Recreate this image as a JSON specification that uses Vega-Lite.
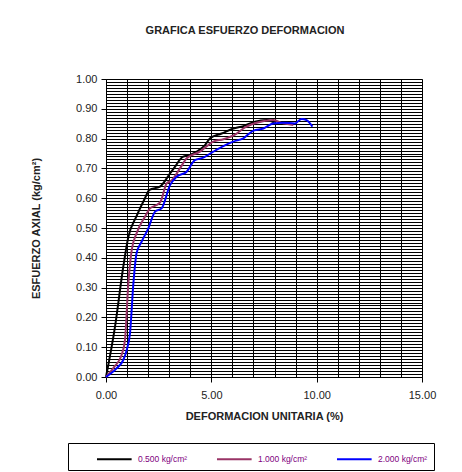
{
  "$schema": "https://vega.github.io/schema/vega-lite/v6.json",
  "width": 316,
  "height": 298,
  "autosize": "none",
  "padding": {"left": 106, "top": 79, "right": 40, "bottom": 95},
  "background": "white",
  "title": {"text": "GRAFICA ESFUERZO DEFORMACION", "font": "Liberation Sans", "fontSize": 11, "fontWeight": "bold", "color": "#222", "offset": 37, "dx": -19},
  "config": {
    "view": {"stroke": "#888", "strokeWidth": 1},
    "axis": {"labelFont": "Liberation Sans", "labelFontSize": 11, "labelColor": "#222", "titleFont": "Liberation Sans", "titleFontSize": 11, "titleFontWeight": "bold", "titleColor": "#222", "labelOverlap": false, "labelBound": false, "labelFlush": false, "domainColor": "#000", "tickColor": "#000", "gridColor": "#000", "gridWidth": 1}
  },
  "data": {"values": [
    {"s": "0.500 kg/cm²", "x": 0, "y": 0},
    {"s": "0.500 kg/cm²", "x": 0.43, "y": 0.17},
    {"s": "0.500 kg/cm²", "x": 0.82, "y": 0.37},
    {"s": "0.500 kg/cm²", "x": 1.06, "y": 0.47},
    {"s": "0.500 kg/cm²", "x": 1.45, "y": 0.54},
    {"s": "0.500 kg/cm²", "x": 1.85, "y": 0.6},
    {"s": "0.500 kg/cm²", "x": 2.06, "y": 0.628},
    {"s": "0.500 kg/cm²", "x": 2.56, "y": 0.639},
    {"s": "0.500 kg/cm²", "x": 3.04, "y": 0.683},
    {"s": "0.500 kg/cm²", "x": 3.28, "y": 0.706},
    {"s": "0.500 kg/cm²", "x": 3.64, "y": 0.739},
    {"s": "0.500 kg/cm²", "x": 3.99, "y": 0.745},
    {"s": "0.500 kg/cm²", "x": 4.3, "y": 0.756},
    {"s": "0.500 kg/cm²", "x": 4.7, "y": 0.778},
    {"s": "0.500 kg/cm²", "x": 4.94, "y": 0.801},
    {"s": "0.500 kg/cm²", "x": 5.49, "y": 0.817},
    {"s": "0.500 kg/cm²", "x": 6.04, "y": 0.834},
    {"s": "0.500 kg/cm²", "x": 6.52, "y": 0.842},
    {"s": "0.500 kg/cm²", "x": 7.07, "y": 0.857},
    {"s": "0.500 kg/cm²", "x": 7.63, "y": 0.862},
    {"s": "0.500 kg/cm²", "x": 8.0, "y": 0.853},
    {"s": "1.000 kg/cm²", "x": 0, "y": 0},
    {"s": "1.000 kg/cm²", "x": 0.4, "y": 0.035},
    {"s": "1.000 kg/cm²", "x": 0.74, "y": 0.074},
    {"s": "1.000 kg/cm²", "x": 0.9, "y": 0.124},
    {"s": "1.000 kg/cm²", "x": 1.06, "y": 0.314},
    {"s": "1.000 kg/cm²", "x": 1.22, "y": 0.426},
    {"s": "1.000 kg/cm²", "x": 1.45, "y": 0.482},
    {"s": "1.000 kg/cm²", "x": 1.85, "y": 0.538},
    {"s": "1.000 kg/cm²", "x": 2.09, "y": 0.566},
    {"s": "1.000 kg/cm²", "x": 2.4, "y": 0.577},
    {"s": "1.000 kg/cm²", "x": 2.6, "y": 0.59},
    {"s": "1.000 kg/cm²", "x": 2.88, "y": 0.65},
    {"s": "1.000 kg/cm²", "x": 3.11, "y": 0.659},
    {"s": "1.000 kg/cm²", "x": 3.51, "y": 0.7},
    {"s": "1.000 kg/cm²", "x": 3.83, "y": 0.734},
    {"s": "1.000 kg/cm²", "x": 4.46, "y": 0.756},
    {"s": "1.000 kg/cm²", "x": 5.09, "y": 0.79},
    {"s": "1.000 kg/cm²", "x": 5.57, "y": 0.798},
    {"s": "1.000 kg/cm²", "x": 6.2, "y": 0.817},
    {"s": "1.000 kg/cm²", "x": 6.52, "y": 0.834},
    {"s": "1.000 kg/cm²", "x": 7.15, "y": 0.853},
    {"s": "1.000 kg/cm²", "x": 7.94, "y": 0.862},
    {"s": "1.000 kg/cm²", "x": 8.41, "y": 0.851},
    {"s": "1.000 kg/cm²", "x": 8.89, "y": 0.846},
    {"s": "2.000 kg/cm²", "x": 0, "y": 0},
    {"s": "2.000 kg/cm²", "x": 0.5, "y": 0.029},
    {"s": "2.000 kg/cm²", "x": 0.82, "y": 0.057},
    {"s": "2.000 kg/cm²", "x": 0.98, "y": 0.09},
    {"s": "2.000 kg/cm²", "x": 1.14, "y": 0.147},
    {"s": "2.000 kg/cm²", "x": 1.3, "y": 0.314},
    {"s": "2.000 kg/cm²", "x": 1.45, "y": 0.415},
    {"s": "2.000 kg/cm²", "x": 1.69, "y": 0.454},
    {"s": "2.000 kg/cm²", "x": 2.01, "y": 0.499},
    {"s": "2.000 kg/cm²", "x": 2.33, "y": 0.555},
    {"s": "2.000 kg/cm²", "x": 2.64, "y": 0.566},
    {"s": "2.000 kg/cm²", "x": 3.04, "y": 0.644},
    {"s": "2.000 kg/cm²", "x": 3.35, "y": 0.672},
    {"s": "2.000 kg/cm²", "x": 3.83, "y": 0.689},
    {"s": "2.000 kg/cm²", "x": 4.22, "y": 0.728},
    {"s": "2.000 kg/cm²", "x": 4.62, "y": 0.736},
    {"s": "2.000 kg/cm²", "x": 5.09, "y": 0.756},
    {"s": "2.000 kg/cm²", "x": 5.57, "y": 0.775},
    {"s": "2.000 kg/cm²", "x": 6.04, "y": 0.79},
    {"s": "2.000 kg/cm²", "x": 6.52, "y": 0.801},
    {"s": "2.000 kg/cm²", "x": 7.0, "y": 0.827},
    {"s": "2.000 kg/cm²", "x": 7.47, "y": 0.834},
    {"s": "2.000 kg/cm²", "x": 7.94, "y": 0.851},
    {"s": "2.000 kg/cm²", "x": 8.41, "y": 0.853},
    {"s": "2.000 kg/cm²", "x": 8.97, "y": 0.851},
    {"s": "2.000 kg/cm²", "x": 9.28, "y": 0.866},
    {"s": "2.000 kg/cm²", "x": 9.52, "y": 0.862},
    {"s": "2.000 kg/cm²", "x": 9.8, "y": 0.84}
  ]},
  "mark": {"type": "line", "strokeWidth": 2, "interpolate": "monotone"},
  "encoding": {
    "x": {"field": "x", "type": "quantitative", "scale": {"domain": [0, 15], "nice": false},
      "axis": {"title": "DEFORMACION UNITARIA (%)", "values": [0,1,2,3,4,5,6,7,8,9,10,11,12,13,14,15],
        "labelExpr": "datum.value % 5 === 0 ? format(datum.value, '.2f') : ''",
        "tickOpacity": {"condition": {"test": "datum.value % 5 === 0", "value": 1}, "value": 0},
        "tickSize": 5, "labelPadding": 7, "titlePadding": 10}},
    "y": {"field": "y", "type": "quantitative", "scale": {"domain": [0, 1], "nice": false},
      "axis": {"title": "ESFUERZO AXIAL (kg/cm²)",
        "values": [0,0.01,0.02,0.03,0.04,0.05,0.06,0.07,0.08,0.09,0.1,0.11,0.12,0.13,0.14,0.15,0.16,0.17,0.18,0.19,0.2,0.21,0.22,0.23,0.24,0.25,0.26,0.27,0.28,0.29,0.3,0.31,0.32,0.33,0.34,0.35,0.36,0.37,0.38,0.39,0.4,0.41,0.42,0.43,0.44,0.45,0.46,0.47,0.48,0.49,0.5,0.51,0.52,0.53,0.54,0.55,0.56,0.57,0.58,0.59,0.6,0.61,0.62,0.63,0.64,0.65,0.66,0.67,0.68,0.69,0.7,0.71,0.72,0.73,0.74,0.75,0.76,0.77,0.78,0.79,0.8,0.81,0.82,0.83,0.84,0.85,0.86,0.87,0.88,0.89,0.9,0.91,0.92,0.93,0.94,0.95,0.96,0.97,0.98,0.99,1],
        "labelExpr": "abs(datum.value*10 - round(datum.value*10)) < 0.001 ? format(datum.value, '.2f') : ''",
        "tickOpacity": {"condition": {"test": "abs(datum.value*10 - round(datum.value*10)) < 0.001", "value": 1}, "value": 0},
        "tickSize": 5, "labelPadding": 4, "titlePadding": 34}},
    "color": {"field": "s", "type": "nominal",
      "scale": {"domain": ["0.500 kg/cm²", "1.000 kg/cm²", "2.000 kg/cm²"], "range": ["#000000", "#993366", "#0000FF"]},
      "legend": {"title": null, "orient": "none", "legendX": -38, "legendY": 364, "direction": "horizontal", "columns": 3,
        "gridAlign": "all", "columnPadding": 6, "padding": 6, "strokeColor": "#000", "fillColor": "white",
        "symbolType": "M1.5,0H5.5", "symbolSize": 300, "symbolStrokeWidth": 2,
        "labelFont": "Liberation Sans", "labelFontSize": 8.5, "labelColor": "#800080", "labelOffset": 44}}
  }
}
